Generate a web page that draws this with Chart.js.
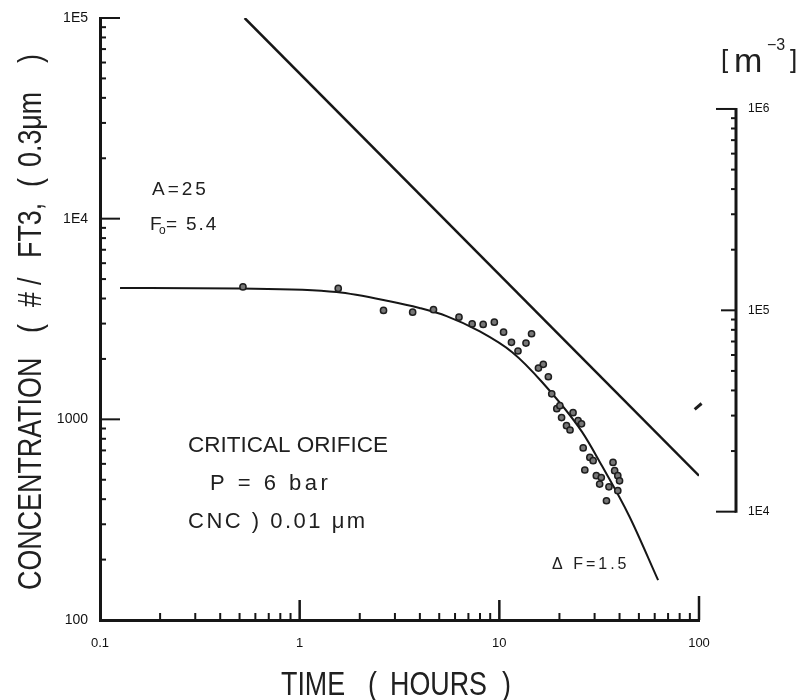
<!DOCTYPE html>
<html>
<head>
<meta charset="utf-8">
<title>Concentration vs time</title>
<script src="https://cdn.jsdelivr.net/npm/chart.js@4.4.0/dist/chart.umd.min.js"></script>
<style>
  html, body { margin: 0; padding: 0; background: #fff; }
  #wrap { width: 801px; height: 700px; }
</style>
</head>
<body>
<div id="wrap"><canvas id="decayChart" width="801" height="700"></canvas></div>
<script>
// measured particle counts (#/ft3, 0.3 um) against time in hours
const pointTime = [0.52, 1.56, 2.63, 3.68, 4.68, 6.28, 7.31, 8.30, 9.44, 10.5, 11.5, 12.4, 13.6, 14.5,
  15.7, 16.6, 17.6, 18.3, 19.4, 20.1, 20.5, 21.7, 22.6, 23.4, 24.8, 25.8, 26.3, 26.8, 28.4, 29.5,
  30.6, 31.8, 32.4, 34.4, 35.4, 37.1, 37.8, 39.2, 39.2, 40.0];
const pointConc = [4570, 4490, 3490, 3420, 3520, 3230, 2990, 2970, 3050, 2720, 2420, 2190, 2400, 2670,
  1800, 1880, 1630, 1340, 1130, 1170, 1020, 930, 885, 1080, 985, 950, 720, 559, 646, 622,
  524, 476, 513, 393, 461, 610, 555, 524, 441, 494];

// stray mark near the right edge
const strayTime = [99];
const strayConc = [1160];

// fitted curve (Delta F = 1.5)
const fitTime = [0.126, 0.5, 1.53, 2.82, 3.98, 5.44, 7.94, 11.6, 16.4, 26.0, 32.7, 44.7, 62.4];
const fitConc = [4510, 4485, 4310, 3880, 3590, 3270, 2750, 2160, 1530, 864, 585, 330, 158];

// straight reference line
const lineTime = [0.53, 100];
const lineConc = [100000, 524];

// axis ticks
const xTickValues = [0.1, 1, 10, 100];
const xTickLabels = ['0.1', '1', '10', '100'];
const yTickValues = [100, 1000, 10000, 100000];
const yTickLabels = ['100', '1000', '1E4', '1E5'];
const y2TickValues = [10000, 100000, 1000000];
const y2TickLabels = ['1E4', '1E5', '1E6'];

const ink = '#161616';
const family = '"Liberation Sans", Arial, sans-serif';

const toXY = (xs, ys) => xs.map((t, i) => ({ x: t, y: ys[i] }));

function minorSteps(min, max) {
  const out = [];
  for (let e = Math.floor(Math.log10(min)); e < Math.ceil(Math.log10(max)); e++) {
    for (let m = 2; m <= 9; m++) {
      const v = m * Math.pow(10, e);
      if (v > min && v < max) out.push(v);
    }
  }
  return out;
}

const inwardTicks = {
  id: 'inwardTicks',
  afterDraw(chart) {
    const { ctx, chartArea: area } = chart;
    const { x, y, y2 } = chart.scales;
    const seg = (a, b, c, d) => { ctx.beginPath(); ctx.moveTo(a, b); ctx.lineTo(c, d); ctx.stroke(); };
    ctx.save();
    ctx.strokeStyle = ink;
    ctx.lineWidth = 2;

    // bottom axis
    minorSteps(x.min, x.max).forEach(v => {
      const px = x.getPixelForValue(v);
      seg(px, area.bottom, px, area.bottom - 7);
    });
    [[1, 20], [10, 20], [100, 24]].forEach(([v, len]) => {
      const px = x.getPixelForValue(v);
      ctx.lineWidth = 2.5;
      seg(px, area.bottom, px, area.bottom - len);
      ctx.lineWidth = 2;
    });

    // left axis
    minorSteps(y.min, y.max).forEach(v => {
      const py = y.getPixelForValue(v);
      seg(area.left, py, area.left + 6, py);
    });
    [1000, 10000, 100000].forEach(v => {
      const py = y.getPixelForValue(v);
      seg(area.left, py, area.left + 20, py);
    });

    // right axis in m^-3, detached from the plot
    const rx = 736;
    ctx.lineWidth = 3;
    seg(rx, y2.getPixelForValue(1e6) - 1, rx, y2.getPixelForValue(1e4) + 1);
    ctx.lineWidth = 2;
    minorSteps(1e4, 1e6).forEach(v => {
      const py = y2.getPixelForValue(v);
      seg(rx, py, rx - 5, py);
    });
    [[1e4, 20], [1e5, 15], [1e6, 20]].forEach(([v, len]) => {
      const py = y2.getPixelForValue(v);
      seg(rx, py, rx - len, py);
    });
    ctx.restore();
  }
};

const notes = {
  id: 'notes',
  afterDraw(chart) {
    const ctx = chart.ctx;
    const put = (text, px, py, size, spacing = 0) => {
      ctx.font = size + 'px ' + family;
      ctx.letterSpacing = spacing + 'px';
      ctx.fillText(text, px, py);
    };
    ctx.save();
    ctx.fillStyle = '#202020';
    ctx.textBaseline = 'middle';
    ctx.textAlign = 'left';

    put('A=25', 152, 190, 19, 3);
    put('F', 150, 225, 19);
    put('o', 159, 231, 12);
    put('=', 166, 225, 19);
    put('5.4', 186, 225, 19, 2);

    put('CRITICAL ORIFICE', 188, 446, 22.5);
    put('P = 6 bar', 210, 484, 22, 3.5);
    put('CNC ) 0.01 μm', 188, 522, 22, 2.5);
    put('Δ F=1.5', 552, 565, 16, 3);

    // unit of the right axis
    ctx.textBaseline = 'alphabetic';
    put('[', 721, 68, 26);
    put('m', 734, 72, 34);
    put('−3', 767, 50, 16);
    put(']', 790, 68, 26);

    // axis titles, condensed lettering
    ctx.letterSpacing = '0px';
    ctx.font = '34px ' + family;
    const squeezed = (text, at) => {
      ctx.save();
      ctx.translate(at, 0);
      ctx.scale(0.79, 1);
      ctx.fillText(text, 0, 0);
      ctx.restore();
    };

    ctx.save();
    ctx.translate(281, 695);
    squeezed('TIME', 0);
    squeezed('(', 87);
    squeezed('HOURS', 109);
    squeezed(')', 221);
    ctx.restore();

    // vertical title: local x runs upward from y = 590
    ctx.save();
    ctx.translate(41, 590);
    ctx.rotate(-Math.PI / 2);
    squeezed('CONCENTRATION', 0);
    squeezed('(', 257);
    squeezed('#', 283);
    squeezed('/', 305);
    squeezed('FT3,', 332);
    squeezed('(', 403);
    squeezed('0.3μm', 423);
    squeezed(')', 527);
    ctx.restore();
    ctx.restore();
  }
};

const tickFont = { family: family, size: 14 };
const noEdgePadding = s => { s.paddingTop = 0; s.paddingBottom = 0; };

new Chart(document.getElementById('decayChart'), {
  type: 'scatter',
  data: {
    datasets: [
      {
        label: 'measured',
        data: toXY(pointTime, pointConc),
        pointRadius: 3.1,
        pointBorderWidth: 1.5,
        borderColor: '#1e1e1e',
        backgroundColor: '#777'
      },
      {
        label: 'stray',
        data: toXY(strayTime, strayConc),
        clip: false,
        pointStyle: 'line',
        pointRadius: 4.5,
        pointBorderWidth: 3,
        rotation: -40,
        borderColor: '#1e1e1e'
      },
      {
        label: 'fit',
        data: toXY(fitTime, fitConc),
        showLine: true,
        pointRadius: 0,
        borderColor: ink,
        borderWidth: 2,
        cubicInterpolationMode: 'monotone'
      },
      {
        label: 'reference',
        data: toXY(lineTime, lineConc),
        showLine: true,
        pointRadius: 0,
        borderColor: ink,
        borderWidth: 2.5
      }
    ]
  },
  options: {
    responsive: false,
    animation: false,
    devicePixelRatio: 1,
    layout: { padding: { top: 18, left: 0, right: 0, bottom: 0 } },
    plugins: { legend: { display: false }, tooltip: { enabled: false } },
    scales: {
      x: {
        type: 'logarithmic',
        position: 'bottom',
        min: 0.1,
        max: 100,
        grid: { display: false, drawTicks: false },
        border: { display: true, color: ink, width: 3 },
        afterBuildTicks: s => { s.ticks = xTickValues.map(v => ({ value: v })); },
        afterFit: s => { s.height = 80; s.paddingLeft = 0; s.paddingRight = 0; },
        ticks: {
          autoSkip: false,
          maxRotation: 0,
          padding: 16,
          color: '#111',
          font: { family: family, size: 13 },
          callback: v => xTickLabels[xTickValues.indexOf(v)]
        }
      },
      y: {
        type: 'logarithmic',
        position: 'left',
        min: 100,
        max: 100000,
        grid: { display: false, drawTicks: false },
        border: { display: true, color: ink, width: 3 },
        afterBuildTicks: s => { s.ticks = yTickValues.map(v => ({ value: v })); },
        afterFit: s => { s.width = 100; noEdgePadding(s); },
        ticks: {
          autoSkip: false,
          padding: 12,
          color: '#111',
          font: tickFont,
          callback: v => yTickLabels[yTickValues.indexOf(v)]
        }
      },
      y2: {
        type: 'logarithmic',
        position: 'right',
        min: 2897,
        max: 2830000,
        grid: { display: false, drawTicks: false },
        border: { display: false },
        afterBuildTicks: s => { s.ticks = y2TickValues.map(v => ({ value: v })); },
        afterFit: s => { s.width = 102; noEdgePadding(s); },
        ticks: {
          autoSkip: false,
          padding: 49,
          color: '#111',
          font: { family: family, size: 12 },
          callback: v => y2TickLabels[y2TickValues.indexOf(v)]
        }
      }
    }
  },
  plugins: [inwardTicks, notes]
});
</script>
</body>
</html>
